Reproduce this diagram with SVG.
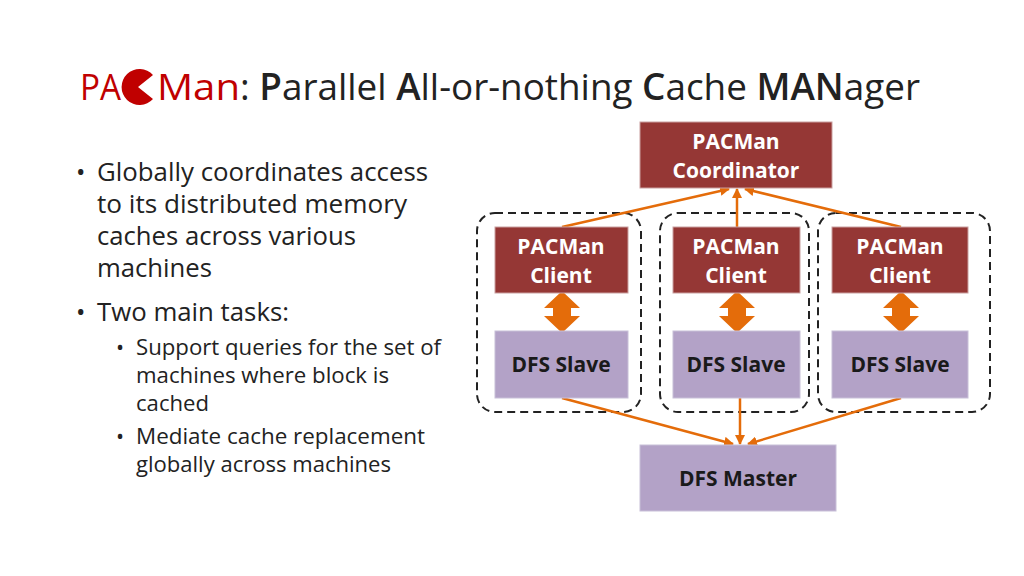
<svg xmlns="http://www.w3.org/2000/svg" width="1024" height="576" viewBox="0 0 1024 576">
<style>
text{font-family:"Open Sans","Liberation Sans",sans-serif}
.t{font-size:37px;fill:#222}
.r{fill:#c00000}
.b1{font-size:25px;fill:#222}
.b2{font-size:21.5px;fill:#222}
.red{fill:#953735;stroke:#c9a0a0;stroke-width:1}
.pur{fill:#b3a2c7;stroke:#c8c0d8;stroke-width:1}
.wt{font-size:21px;font-weight:bold;fill:#fff;text-anchor:middle}
.bt{font-size:21px;font-weight:bold;fill:#1a1a1a;text-anchor:middle}
.dash{fill:none;stroke:#222;stroke-width:2;stroke-dasharray:8,5}
.ln{stroke:#e46c0a;stroke-width:2.5;fill:none;marker-end:url(#ah)}
.dbl{fill:#e46c0a}
</style>
<defs>
<marker id="ah" viewBox="0 0 10 10" refX="9" refY="5" markerWidth="4" markerHeight="4" orient="auto"><path d="M0,0 L10,5 L0,10 z" fill="#e46c0a"/></marker>
</defs>
<g id="title">
<text x="80" y="100" class="t r" textLength="41" lengthAdjust="spacingAndGlyphs">PA</text>
<path d="M138,87 L153,75 A18,18 0 1,0 153,99 Z" fill="#c00000"/>
<text x="157" y="100" class="t r" textLength="83" lengthAdjust="spacingAndGlyphs">Man</text>
<text x="240" y="100" class="t" textLength="680" lengthAdjust="spacingAndGlyphs">: <tspan font-weight="600">P</tspan>arallel <tspan font-weight="600">A</tspan>ll-or-nothing <tspan font-weight="600">C</tspan>ache <tspan font-weight="600">MAN</tspan>ager</text>
</g>
<g id="bullets">
<text class="b1" x="76" y="181">•</text>
<text class="b1" x="97" y="181" textLength="331" lengthAdjust="spacingAndGlyphs">Globally coordinates access</text>
<text class="b1" x="97" y="213" textLength="310" lengthAdjust="spacingAndGlyphs">to its distributed memory</text>
<text class="b1" x="97" y="245" textLength="259" lengthAdjust="spacingAndGlyphs">caches across various</text>
<text class="b1" x="97" y="277" textLength="115" lengthAdjust="spacingAndGlyphs">machines</text>
<text class="b1" x="76" y="321">•</text>
<text class="b1" x="97" y="321" textLength="192" lengthAdjust="spacingAndGlyphs">Two main tasks:</text>
<text class="b2" x="116" y="355">•</text>
<text class="b2" x="136" y="355" textLength="305" lengthAdjust="spacingAndGlyphs">Support queries for the set of</text>
<text class="b2" x="136" y="383" textLength="253" lengthAdjust="spacingAndGlyphs">machines where block is</text>
<text class="b2" x="136" y="411" textLength="73" lengthAdjust="spacingAndGlyphs">cached</text>
<text class="b2" x="116" y="444">•</text>
<text class="b2" x="136" y="444" textLength="289" lengthAdjust="spacingAndGlyphs">Mediate cache replacement</text>
<text class="b2" x="136" y="472" textLength="255" lengthAdjust="spacingAndGlyphs">globally across machines</text>
</g>
<g id="groups">
<rect class="dash" x="477" y="213" width="164" height="199" rx="18"/>
<rect class="dash" x="660" y="213" width="149" height="199" rx="18"/>
<rect class="dash" x="818" y="213" width="172" height="199" rx="18"/>
</g>
<g id="connectors">
<path class="ln" d="M562,227 L729,189"/>
<path class="ln" d="M737,227 L737,189"/>
<path class="ln" d="M901,227 L745,189"/>
<path class="ln" d="M562,398 L733,444"/>
<path class="ln" d="M740,398 L740,444"/>
<path class="ln" d="M901,398 L748,444"/>
<path class="dbl" d="M562,291 L580,308 L571,308 L571,316 L580,316 L562,333 L544,316 L553,316 L553,308 L544,308 Z"/>
<path class="dbl" d="M737,291 L755,308 L746,308 L746,316 L755,316 L737,333 L719,316 L728,316 L728,308 L719,308 Z"/>
<path class="dbl" d="M901,291 L919,308 L910,308 L910,316 L919,316 L901,333 L883,316 L892,316 L892,308 L883,308 Z"/>
</g>
<g id="coordinator"><rect class="red" x="640" y="122" width="192" height="66"/><text class="wt" x="736" y="149">PACMan</text><text class="wt" x="736" y="178">Coordinator</text></g>
<g id="client1"><rect class="red" x="495" y="227" width="133" height="66"/><text class="wt" x="561" y="254">PACMan</text><text class="wt" x="561" y="283">Client</text></g>
<g id="client2"><rect class="red" x="673" y="227" width="127" height="66"/><text class="wt" x="736" y="254">PACMan</text><text class="wt" x="736" y="283">Client</text></g>
<g id="client3"><rect class="red" x="832" y="227" width="136" height="66"/><text class="wt" x="900" y="254">PACMan</text><text class="wt" x="900" y="283">Client</text></g>
<g id="slave1"><rect class="pur" x="495" y="331" width="133" height="67"/><text class="bt" x="561" y="372">DFS Slave</text></g>
<g id="slave2"><rect class="pur" x="673" y="331" width="127" height="67"/><text class="bt" x="736" y="372">DFS Slave</text></g>
<g id="slave3"><rect class="pur" x="832" y="331" width="136" height="67"/><text class="bt" x="900" y="372">DFS Slave</text></g>
<g id="master"><rect class="pur" x="640" y="445" width="196" height="66"/><text class="bt" x="738" y="486">DFS Master</text></g>
</svg>
